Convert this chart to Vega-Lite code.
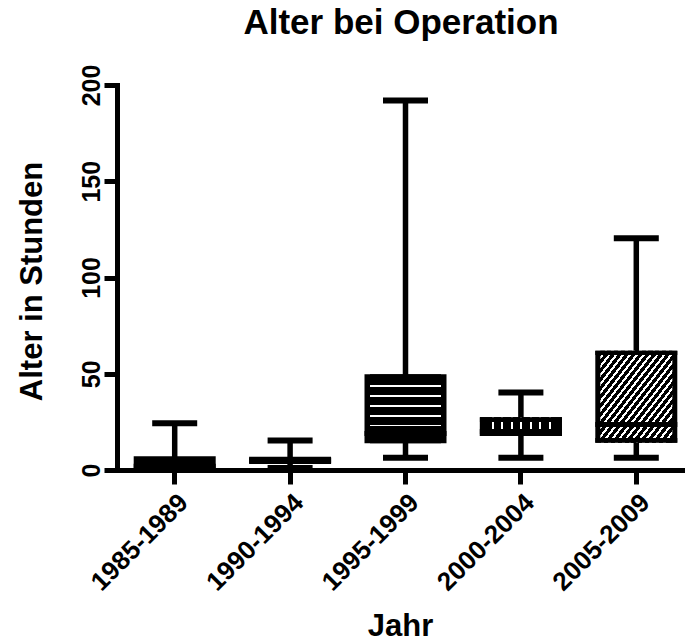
{
  "$schema": "https://vega.github.io/schema/vega-lite/v6.json",
  "autosize": {"type": "none"},
  "width": 568,
  "height": 385,
  "padding": {"left": 117, "top": 85, "right": 0, "bottom": 174},
  "background": "white",
  "title": {
    "text": "Alter bei Operation",
    "font": "Liberation Sans",
    "fontSize": 35,
    "fontWeight": "bold",
    "color": "black",
    "anchor": "middle",
    "baseline": "alphabetic",
    "offset": -5
  },
  "config": {
    "view": {"stroke": null},
    "axis": {
      "domainColor": "black",
      "domainWidth": 5,
      "domainCap": "square",
      "tickColor": "black",
      "tickWidth": 5,
      "grid": false,
      "labelFont": "Liberation Sans",
      "labelFontWeight": "bold",
      "labelColor": "black",
      "labelFontSize": 25,
      "titleFont": "Liberation Sans",
      "titleFontWeight": "bold",
      "titleColor": "black",
      "titleFontSize": 31
    }
  },
  "data": {
    "values": [
      {"Jahr": "1985-1989", "min": 0, "q1": 0.5, "median": 2, "q3": 7.2, "max": 24.3},
      {"Jahr": "1990-1994", "min": 1, "q1": 3.1, "median": 5, "q3": 6.9, "max": 15.3},
      {"Jahr": "1995-1999", "min": 6.4, "q1": 13.9, "median": 19, "q3": 49.7, "max": 192},
      {"Jahr": "2000-2004", "min": 6.4, "q1": 17.7, "median": 20, "q3": 27.4, "max": 40.3},
      {"Jahr": "2005-2009", "min": 6.4, "q1": 14.1, "median": 23.7, "q3": 62, "max": 120.4}
    ]
  },
  "encoding": {
    "x": {
      "field": "Jahr",
      "type": "nominal",
      "sort": null,
      "scale": {"range": [0, 577], "paddingInner": 0, "paddingOuter": 0},
      "axis": {
        "title": "Jahr",
        "labelAngle": -45,
        "labelAlign": "right",
        "labelBaseline": "top",
        "labelPadding": 5,
        "labelFontSize": 26,
        "tickSize": 14,
        "titleX": 283,
        "titleY": 165,
        "titleAlign": "center",
        "titleBaseline": "alphabetic"
      }
    }
  },
  "layer": [
    {
      "mark": {"type": "rule", "color": "black", "strokeWidth": 5.5},
      "encoding": {
        "y": {
          "field": "min",
          "type": "quantitative",
          "scale": {"domain": [0, 200], "nice": false},
          "axis": {
            "title": "Alter in Stunden",
            "values": [0, 50, 100, 150, 200],
            "tickSize": 13,
            "labelAngle": -90,
            "labelAlign": "center",
            "labelBaseline": "alphabetic",
            "labelPadding": 5,
            "titleAngle": -90,
            "titleX": -76,
            "titleY": 196,
            "titleAlign": "center",
            "titleBaseline": "alphabetic"
          }
        },
        "y2": {"field": "max"}
      }
    },
    {
      "mark": {"type": "tick", "color": "black", "size": 45, "thickness": 6, "opacity": 1},
      "encoding": {"y": {"field": "max", "type": "quantitative"}}
    },
    {
      "mark": {"type": "tick", "color": "black", "size": 45, "thickness": 6, "opacity": 1},
      "encoding": {"y": {"field": "min", "type": "quantitative"}}
    },
    {
      "mark": {"type": "bar", "fill": "black", "size": 82},
      "encoding": {"y": {"field": "q1", "type": "quantitative"}, "y2": {"field": "q3"}}
    },
    {
      "transform": [{"filter": "datum.Jahr === '1995-1999'"}],
      "mark": {
        "type": "bar",
        "size": 71,
        "fill": {
          "gradient": "linear", "x1": 0, "y1": 0, "x2": 0, "y2": 1,
          "stops": [
            {"offset": 0, "color": "black"}, {"offset": 0.158, "color": "black"},
            {"offset": 0.158, "color": "white"}, {"offset": 0.182, "color": "white"},
            {"offset": 0.182, "color": "black"}, {"offset": 0.303, "color": "black"},
            {"offset": 0.303, "color": "white"}, {"offset": 0.327, "color": "white"},
            {"offset": 0.327, "color": "black"}, {"offset": 0.447, "color": "black"},
            {"offset": 0.447, "color": "white"}, {"offset": 0.471, "color": "white"},
            {"offset": 0.471, "color": "black"}, {"offset": 0.592, "color": "black"},
            {"offset": 0.592, "color": "white"}, {"offset": 0.616, "color": "white"},
            {"offset": 0.616, "color": "black"}, {"offset": 0.733, "color": "black"},
            {"offset": 0.733, "color": "white"}, {"offset": 0.757, "color": "white"},
            {"offset": 0.757, "color": "black"}, {"offset": 1, "color": "black"}
          ]
        }
      },
      "encoding": {"y": {"field": "q1", "type": "quantitative"}, "y2": {"field": "q3"}}
    },
    {
      "transform": [{"filter": "datum.Jahr === '2000-2004'"}],
      "mark": {
        "type": "bar",
        "size": 82,
        "fill": {
          "gradient": "linear", "x1": 0, "y1": 0, "x2": 1, "y2": 0,
          "stops": [
            {"offset": 0, "color": "black"}, {"offset": 0.144, "color": "black"},
            {"offset": 0.144, "color": "white"}, {"offset": 0.166, "color": "white"},
            {"offset": 0.166, "color": "black"}, {"offset": 0.262, "color": "black"},
            {"offset": 0.262, "color": "white"}, {"offset": 0.284, "color": "white"},
            {"offset": 0.284, "color": "black"}, {"offset": 0.377, "color": "black"},
            {"offset": 0.377, "color": "white"}, {"offset": 0.399, "color": "white"},
            {"offset": 0.399, "color": "black"}, {"offset": 0.491, "color": "black"},
            {"offset": 0.491, "color": "white"}, {"offset": 0.513, "color": "white"},
            {"offset": 0.513, "color": "black"}, {"offset": 0.610, "color": "black"},
            {"offset": 0.610, "color": "white"}, {"offset": 0.632, "color": "white"},
            {"offset": 0.632, "color": "black"}, {"offset": 0.724, "color": "black"},
            {"offset": 0.724, "color": "white"}, {"offset": 0.746, "color": "white"},
            {"offset": 0.746, "color": "black"}, {"offset": 0.843, "color": "black"},
            {"offset": 0.843, "color": "white"}, {"offset": 0.865, "color": "white"},
            {"offset": 0.865, "color": "black"}, {"offset": 1, "color": "black"}
          ]
        }
      },
      "encoding": {"y": {"field": "q1", "type": "quantitative"}, "y2": {"field": "q3"}}
    },
    {
      "transform": [{"filter": "datum.Jahr === '2000-2004'"}],
      "mark": {
        "type": "bar",
        "size": 82,
        "fill": {
          "gradient": "linear", "x1": 0, "y1": 0, "x2": 0, "y2": 1,
          "stops": [
            {"offset": 0, "color": "rgba(0,0,0,1)"}, {"offset": 0.267, "color": "rgba(0,0,0,1)"},
            {"offset": 0.267, "color": "rgba(0,0,0,0)"}, {"offset": 0.626, "color": "rgba(0,0,0,0)"},
            {"offset": 0.626, "color": "rgba(0,0,0,1)"}, {"offset": 1, "color": "rgba(0,0,0,1)"}
          ]
        }
      },
      "encoding": {"y": {"field": "q1", "type": "quantitative"}, "y2": {"field": "q3"}}
    },
    {
      "transform": [{"filter": "datum.Jahr === '2005-2009'"}],
      "mark": {
        "type": "bar",
        "size": 72,
        "fill": {
          "gradient": "linear", "x1": 0, "y1": 0, "x2": 1, "y2": 1,
          "stops": [
            {"offset": 0, "color": "black"}, {"offset": 0.029, "color": "black"}, {"offset": 0.029, "color": "white"}, {"offset": 0.0476, "color": "white"},
            {"offset": 0.0476, "color": "black"}, {"offset": 0.0766, "color": "black"}, {"offset": 0.0766, "color": "white"}, {"offset": 0.0952, "color": "white"},
            {"offset": 0.0952, "color": "black"}, {"offset": 0.1242, "color": "black"}, {"offset": 0.1242, "color": "white"}, {"offset": 0.1429, "color": "white"},
            {"offset": 0.1429, "color": "black"}, {"offset": 0.1719, "color": "black"}, {"offset": 0.1719, "color": "white"}, {"offset": 0.1905, "color": "white"},
            {"offset": 0.1905, "color": "black"}, {"offset": 0.2195, "color": "black"}, {"offset": 0.2195, "color": "white"}, {"offset": 0.2381, "color": "white"},
            {"offset": 0.2381, "color": "black"}, {"offset": 0.2671, "color": "black"}, {"offset": 0.2671, "color": "white"}, {"offset": 0.2857, "color": "white"},
            {"offset": 0.2857, "color": "black"}, {"offset": 0.3147, "color": "black"}, {"offset": 0.3147, "color": "white"}, {"offset": 0.3333, "color": "white"},
            {"offset": 0.3333, "color": "black"}, {"offset": 0.3623, "color": "black"}, {"offset": 0.3623, "color": "white"}, {"offset": 0.3810, "color": "white"},
            {"offset": 0.3810, "color": "black"}, {"offset": 0.4100, "color": "black"}, {"offset": 0.4100, "color": "white"}, {"offset": 0.4286, "color": "white"},
            {"offset": 0.4286, "color": "black"}, {"offset": 0.4576, "color": "black"}, {"offset": 0.4576, "color": "white"}, {"offset": 0.4762, "color": "white"},
            {"offset": 0.4762, "color": "black"}, {"offset": 0.5052, "color": "black"}, {"offset": 0.5052, "color": "white"}, {"offset": 0.5238, "color": "white"},
            {"offset": 0.5238, "color": "black"}, {"offset": 0.5528, "color": "black"}, {"offset": 0.5528, "color": "white"}, {"offset": 0.5714, "color": "white"},
            {"offset": 0.5714, "color": "black"}, {"offset": 0.6004, "color": "black"}, {"offset": 0.6004, "color": "white"}, {"offset": 0.6190, "color": "white"},
            {"offset": 0.6190, "color": "black"}, {"offset": 0.6480, "color": "black"}, {"offset": 0.6480, "color": "white"}, {"offset": 0.6667, "color": "white"},
            {"offset": 0.6667, "color": "black"}, {"offset": 0.6957, "color": "black"}, {"offset": 0.6957, "color": "white"}, {"offset": 0.7143, "color": "white"},
            {"offset": 0.7143, "color": "black"}, {"offset": 0.7433, "color": "black"}, {"offset": 0.7433, "color": "white"}, {"offset": 0.7619, "color": "white"},
            {"offset": 0.7619, "color": "black"}, {"offset": 0.7909, "color": "black"}, {"offset": 0.7909, "color": "white"}, {"offset": 0.8095, "color": "white"},
            {"offset": 0.8095, "color": "black"}, {"offset": 0.8385, "color": "black"}, {"offset": 0.8385, "color": "white"}, {"offset": 0.8571, "color": "white"},
            {"offset": 0.8571, "color": "black"}, {"offset": 0.8861, "color": "black"}, {"offset": 0.8861, "color": "white"}, {"offset": 0.9048, "color": "white"},
            {"offset": 0.9048, "color": "black"}, {"offset": 0.9338, "color": "black"}, {"offset": 0.9338, "color": "white"}, {"offset": 0.9524, "color": "white"},
            {"offset": 0.9524, "color": "black"}, {"offset": 1, "color": "black"}
          ]
        }
      },
      "encoding": {"y": {"field": "q1", "type": "quantitative"}, "y2": {"field": "q3"}}
    },
    {
      "transform": [{"filter": "datum.Jahr === '2005-2009'"}],
      "mark": {
        "type": "bar",
        "size": 82,
        "fill": {
          "gradient": "linear", "x1": 0, "y1": 0, "x2": 0, "y2": 1,
          "stops": [
            {"offset": 0, "color": "rgba(0,0,0,1)"}, {"offset": 0.045, "color": "rgba(0,0,0,1)"},
            {"offset": 0.045, "color": "rgba(0,0,0,0)"}, {"offset": 0.948, "color": "rgba(0,0,0,0)"},
            {"offset": 0.948, "color": "rgba(0,0,0,1)"}, {"offset": 1, "color": "rgba(0,0,0,1)"}
          ]
        }
      },
      "encoding": {"y": {"field": "q1", "type": "quantitative"}, "y2": {"field": "q3"}}
    },
    {
      "mark": {"type": "tick", "color": "black", "size": 82, "thickness": 5, "opacity": 1},
      "encoding": {"y": {"field": "median", "type": "quantitative"}}
    }
  ]
}
